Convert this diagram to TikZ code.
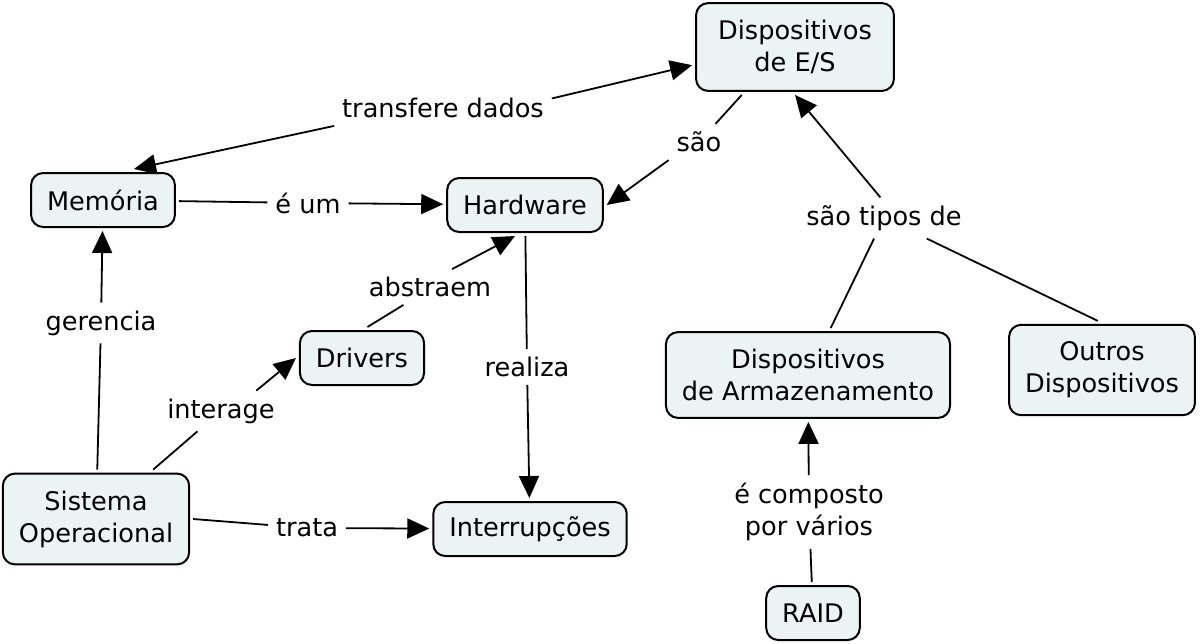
\documentclass[tikz,border=0pt]{standalone}
\usepackage{fontspec}
\setmainfont{DejaVu Sans}
\usetikzlibrary{arrows.meta}
\definecolor{conceptfill}{HTML}{EBF3F5}
\tikzset{
  concept/.style={draw, line width=1pt, rounded corners=6pt, fill=conceptfill,
    inner xsep=8pt, inner ysep=6pt, minimum height=27pt, align=center, outer sep=2pt,
    font=\fontsize{12.8}{16}\selectfont},
  twoline/.style={inner ysep=8.5pt},
  phrase/.style={inner sep=3pt, align=center, outer sep=1pt,
    font=\fontsize{12.8}{16}\selectfont},
  link/.style={line width=0.9pt},
  linkto/.style={link, -{Triangle[length=11pt,width=10pt]}},
}
\begin{document}
\begin{tikzpicture}[x=0.5pt,y=-0.5pt]
\useasboundingbox (0,0) rectangle (1200,643);
% conceitos
\node[concept,twoline,inner xsep=11pt] (des) at (795,47) {Dispositivos\\de E/S};
\node[concept] (mem) at (103,200) {Memória};
\node[concept] (hw) at (525,205) {Hardware};
\node[concept] (drv) at (362,358) {Drivers};
\node[concept,twoline] (so) at (96,519) {Sistema\\Operacional};
\node[concept] (intr) at (530,529) {Interrupções};
\node[concept,twoline] (arm) at (808,375) {Dispositivos\\de Armazenamento};
\node[concept,twoline] (outros) at (1102,370) {Outros\\Dispositivos};
\node[concept] (raid) at (813,613) {RAID};
% frases de ligacao
\node[phrase] (tdados) at (443,108) {transfere dados};
\node[phrase] (eum) at (308,203) {é um};
\node[phrase] (sao) at (699,142) {são};
\node[phrase] (abst) at (430,287) {abstraem};
\node[phrase] (ger) at (101,323) {gerencia};
\node[phrase] (real) at (527,367) {realiza};
\node[phrase] (inter) at (221,411) {interage};
\node[phrase] (trata) at (307,528) {trata};
\node[phrase] (stipos) at (884,218) {são tipos de};
\node[phrase] (comp) at (809,512) {é composto\\por vários};
% ligacoes
\draw[linkto] (tdados.south west) -- (mem.45);
\draw[linkto] (tdados.5) -- (des.190);
\draw[link] (mem) -- (eum);
\draw[linkto] (eum) -- (hw);
\draw[link] (des.222) -- (sao);
\draw[linkto] (sao.south west) -- (hw.east);
\draw[link] (drv.80) -- (abst.214);
\draw[linkto] (abst.39) -- (hw.252);
\draw[link] (so) -- (ger);
\draw[linkto] (ger) -- (mem);
\draw[link] (hw) -- (real);
\draw[linkto] (real) -- (intr);
\draw[link] (so) -- (inter);
\draw[linkto] (inter.30) -- (drv.west);
\draw[link] (so.east) -- (trata);
\draw[linkto] (trata) -- (intr);
\draw[link] (arm) -- (stipos);
\draw[link] (outros.95) -- (stipos);
\draw[linkto] (stipos.100) -- (des.south);
\draw[link] (raid) -- (comp);
\draw[linkto] (comp) -- (arm);
\end{tikzpicture}
\end{document}
